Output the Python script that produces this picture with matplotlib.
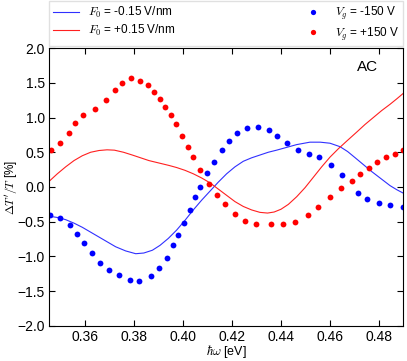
import matplotlib
matplotlib.use("Agg")
import matplotlib.pyplot as plt

plt.rcParams["font.family"] = ["Liberation Sans", "DejaVu Sans"]
plt.rcParams["mathtext.fontset"] = "cm"

# lines: F0 = -0.15 V/nm (blue), F0 = +0.15 V/nm (red)
x_blue_line = [0.3453, 0.3490, 0.3521, 0.3555, 0.3589, 0.3623, 0.3657, 0.3691, 0.3725,
               0.3766, 0.3807, 0.3840, 0.3875, 0.3906, 0.3940, 0.3974, 0.4008, 0.4042,
               0.4076, 0.4110, 0.4144, 0.4178, 0.4212, 0.4246, 0.4280, 0.4314, 0.4348,
               0.4382, 0.4423, 0.4464, 0.4518, 0.4560, 0.4600, 0.4641, 0.4672, 0.4703,
               0.4737, 0.4771, 0.4808, 0.4845, 0.4873, 0.4900]
y_blue_line = [-0.42, -0.44, -0.47, -0.52, -0.58, -0.65, -0.72, -0.79, -0.86,
               -0.92, -0.96, -0.95, -0.91, -0.84, -0.74, -0.62, -0.48, -0.33,
               -0.19, -0.06, 0.07, 0.19, 0.29, 0.37, 0.42, 0.46, 0.50,
               0.53, 0.57, 0.61, 0.645, 0.645, 0.63, 0.58, 0.51, 0.42,
               0.32, 0.22, 0.12, 0.02, -0.04, -0.09]

x_red_line = [0.3453, 0.3487, 0.3521, 0.3555, 0.3589, 0.3623, 0.3657, 0.3690, 0.3720,
              0.3757, 0.3793, 0.3827, 0.3861, 0.3902, 0.3943, 0.3974, 0.4008, 0.4042,
              0.4076, 0.4110, 0.4144, 0.4178, 0.4212, 0.4246, 0.4280, 0.4314, 0.4345,
              0.4372, 0.4400, 0.4430, 0.4464, 0.4498, 0.4532, 0.4566, 0.4600, 0.4634,
              0.4668, 0.4709, 0.4743, 0.4777, 0.4811, 0.4845, 0.4873, 0.4900]
y_red_line = [0.08, 0.19, 0.29, 0.38, 0.45, 0.50, 0.525, 0.535, 0.53,
              0.50, 0.46, 0.42, 0.38, 0.345, 0.31, 0.28, 0.24, 0.19,
              0.13, 0.06, -0.03, -0.12, -0.21, -0.28, -0.33, -0.365, -0.375,
              -0.36, -0.32, -0.25, -0.14, -0.01, 0.14, 0.29, 0.43, 0.55,
              0.66, 0.79, 0.90, 1.00, 1.10, 1.19, 1.27, 1.35]

# dots: Vg = -150 V (blue), Vg = +150 V (red)
x_blue_dots = [0.3457, 0.3499, 0.3540, 0.3567, 0.3596, 0.3627, 0.3660, 0.3699, 0.3740,
               0.3784, 0.3822, 0.3868, 0.3902, 0.3935, 0.3960, 0.3981, 0.4005, 0.4029,
               0.4048, 0.4069, 0.4097, 0.4127, 0.4158, 0.4189, 0.4219, 0.4263, 0.4306,
               0.4350, 0.4385, 0.4423, 0.4468, 0.4515, 0.4556, 0.4604, 0.4649, 0.4716,
               0.4751, 0.4799, 0.4846, 0.4897]
y_blue_dots = [-0.41, -0.45, -0.54, -0.67, -0.80, -0.95, -1.09, -1.20, -1.27,
               -1.34, -1.35, -1.28, -1.16, -1.02, -0.84, -0.69, -0.52, -0.33,
               -0.15, 0.00, 0.20, 0.36, 0.53, 0.66, 0.77, 0.85, 0.86,
               0.82, 0.73, 0.63, 0.53, 0.48, 0.43, 0.32, 0.17, -0.09,
               -0.17, -0.23, -0.26, -0.29]

x_red_dots = [0.3461, 0.3499, 0.3535, 0.3561, 0.3593, 0.3640, 0.3686, 0.3722, 0.3752,
              0.3788, 0.3824, 0.3858, 0.3883, 0.3907, 0.3928, 0.3950, 0.3971, 0.3997,
              0.4022, 0.4042, 0.4069, 0.4106, 0.4139, 0.4171, 0.4211, 0.4253, 0.4298,
              0.4358, 0.4407, 0.4457, 0.4509, 0.4552, 0.4601, 0.4645, 0.4691, 0.4722,
              0.4758, 0.4793, 0.4829, 0.4865, 0.4899]
y_red_dots = [0.53, 0.64, 0.77, 0.92, 1.04, 1.12, 1.25, 1.40, 1.49,
              1.57, 1.53, 1.47, 1.36, 1.26, 1.15, 1.03, 0.90, 0.74,
              0.57, 0.43, 0.25, 0.04, -0.11, -0.24, -0.39, -0.49, -0.53,
              -0.53, -0.53, -0.51, -0.41, -0.29, -0.14, -0.01, 0.09, 0.18,
              0.27, 0.36, 0.43, 0.48, 0.53]

fig = plt.figure(figsize=(4.07, 3.61), dpi=100)
ax = fig.add_axes([0.1204, 0.097, 0.8698, 0.770])

ax.plot(x_blue_line, y_blue_line, color="#3030ff", lw=0.8, label=r"$F_0$ = -0.15 V/nm")
ax.plot(x_red_line, y_red_line, color="#ff2020", lw=0.8, label=r"$F_0$ = +0.15 V/nm")
ax.plot(x_blue_dots, y_blue_dots, "o", color="#0000ff", ms=4.2, mec="none",
        label=r"$V_g$ = -150 V")
ax.plot(x_red_dots, y_red_dots, "o", color="#ff0000", ms=4.2, mec="none",
        label=r"$V_g$ = +150 V")

ax.set_xlim(0.3453, 0.4898)
ax.set_ylim(-2.0, 2.0)
ax.set_xticks([0.36, 0.38, 0.40, 0.42, 0.44, 0.46, 0.48])
ax.set_yticks([-2.0, -1.5, -1.0, -0.5, 0.0, 0.5, 1.0, 1.5, 2.0])
ax.tick_params(direction="in", top=True, right=True, labelsize=10, length=4, pad=3)
ax.set_xlabel(r"$\hbar\omega$ [eV]", fontsize=9)
ax.set_ylabel(r"$\Delta T'/T$ [%]", fontsize=8.5)
ax.xaxis.set_label_coords(0.5, -0.062)
ax.yaxis.set_label_coords(-0.082, 0.5)
ax.text(0.90, 0.93, "AC", transform=ax.transAxes, fontsize=11, ha="center", va="center")

ax.legend(loc="center", bbox_to_anchor=(0.1204, 0.8781, 0.8698, 0.1136),
          bbox_transform=fig.transFigure, ncol=2, mode="expand",
          fontsize=8.5, frameon=True, fancybox=False, edgecolor="0.85",
          borderaxespad=0, handlelength=2.2, markerscale=0.9,
          borderpad=0.3, labelspacing=0.25)

fig.savefig("out.png", dpi=100)
